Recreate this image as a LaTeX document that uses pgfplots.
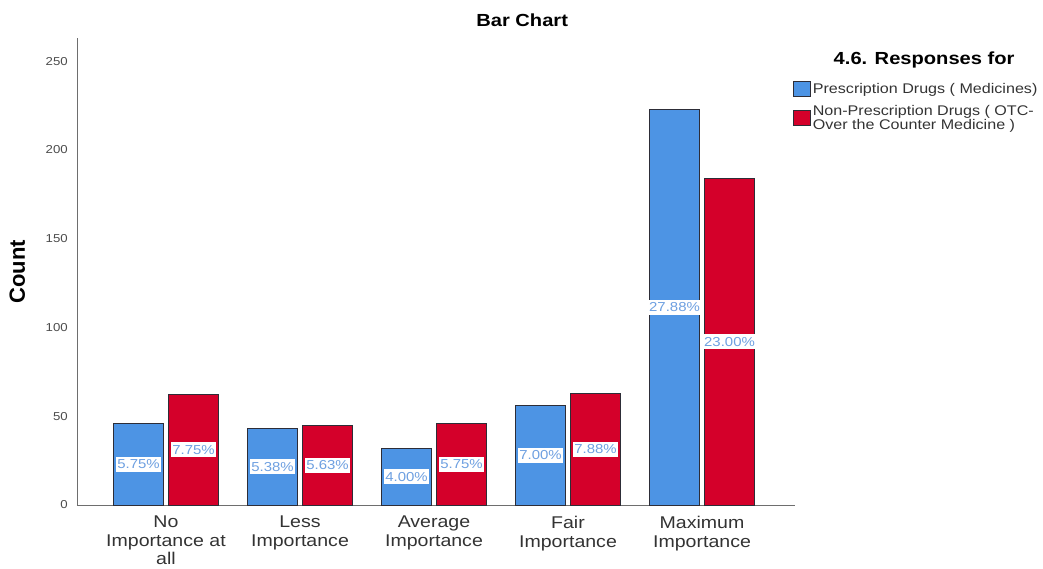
\documentclass[border=0pt]{standalone}
\usepackage{pgfplots}
\pgfplotsset{compat=1.18}
\usepackage{pgfplotstable}
\usepackage{fontspec}
\setmainfont{Liberation Sans}[FakeStretch=1.15]
\newfontfamily\countfont{Liberation Sans}
\definecolor{cblue}{RGB}{77,148,228}
\definecolor{cred}{RGB}{212,0,42}
\definecolor{clab}{RGB}{110,160,225}
\definecolor{cedge}{RGB}{45,45,55}
\definecolor{caxis}{RGB}{110,110,110}

\pgfplotstableread{
x y lab
0 46 5.75\%
1 43 5.38\%
2 32 4.00\%
3 56 7.00\%
4 223 27.88\%
}\presc
\pgfplotstableread{
x y lab
0 62 7.75\%
1 45 5.63\%
2 46 5.75\%
3 63 7.88\%
4 184 23.00\%
}\otc

\begin{document}
\begin{tikzpicture}
\useasboundingbox (-77pt,-64pt) rectangle (966pt,505pt);
\begin{axis}[
  scale only axis,
  width=718pt, height=467pt,
  xmin=-0.664, xmax=4.694,
  ymin=0, ymax=263,
  axis x line=bottom, axis y line=left,
  axis line style={caxis, line width=0.8pt, -},
  ybar, bar width=50pt,
  xtick={0,1,2,3,4},
  xticklabels={{No\\Importance at\\all},{Less\\Importance},{Average\\Importance},{Fair\\Importance},{Maximum\\Importance}},
  xticklabel style={align=center, font=\fontsize{17}{18.5}\selectfont, text=black!80, inner sep=0pt, yshift=-11pt},
  ytick={0,50,100,150,200,250},
  yticklabel style={font=\fontsize{11.5}{13}\selectfont, text=black!70, inner sep=0pt, xshift=-9pt},
  /pgf/number format/assume math mode=true,
  major tick length=0pt,
  tick style={draw=none},
  point meta=explicit symbolic,
  visualization depends on={\thisrow{y}/2 \as \halfy},
  nodes near coords,
  nodes near coords style={anchor=center, shift={(axis direction cs:0,-\halfy)},
    fill=white, text=clab, font=\fontsize{13}{14}\selectfont,
    inner xsep=1.5pt, inner ysep=0pt, minimum height=15pt},
  legend style={at={(0.997,0.908)}, anchor=north west, draw=none, fill=none,
    font=\fontsize{14}{14.5}\selectfont, text=black!80, cells={align=left, anchor=west},
    row sep=6pt, inner sep=0pt},
  legend image code/.code={\draw[#1, line width=0.8pt] (0pt,-7.5pt) rectangle (17pt,7.5pt);},
  clip=false,
]
\addplot[fill=cblue, draw=cedge, line width=0.9pt, bar shift=-27.5pt] table[x=x, y=y, meta=lab] {\presc};
\addlegendentry{Prescription Drugs ( Medicines)}
\addplot[fill=cred, draw=cedge, line width=0.9pt, bar shift=27.5pt] table[x=x, y=y, meta=lab] {\otc};
\addlegendentry{Non-Prescription Drugs ( OTC-\\Over the Counter Medicine )}
\node[font=\bfseries\fontsize{17.5}{19}\selectfont, anchor=west] at (axis description cs:1.049,0.953) {4.6. Responses for};
\node[font=\bfseries\fontsize{17.5}{19}\selectfont] at (axis description cs:0.620,1.0385) {Bar Chart};
\node[font=\countfont\bfseries\fontsize{22}{24}\selectfont, rotate=90] at (axis description cs:-0.083,0.499) {Count};
\end{axis}
\end{tikzpicture}
\end{document}
